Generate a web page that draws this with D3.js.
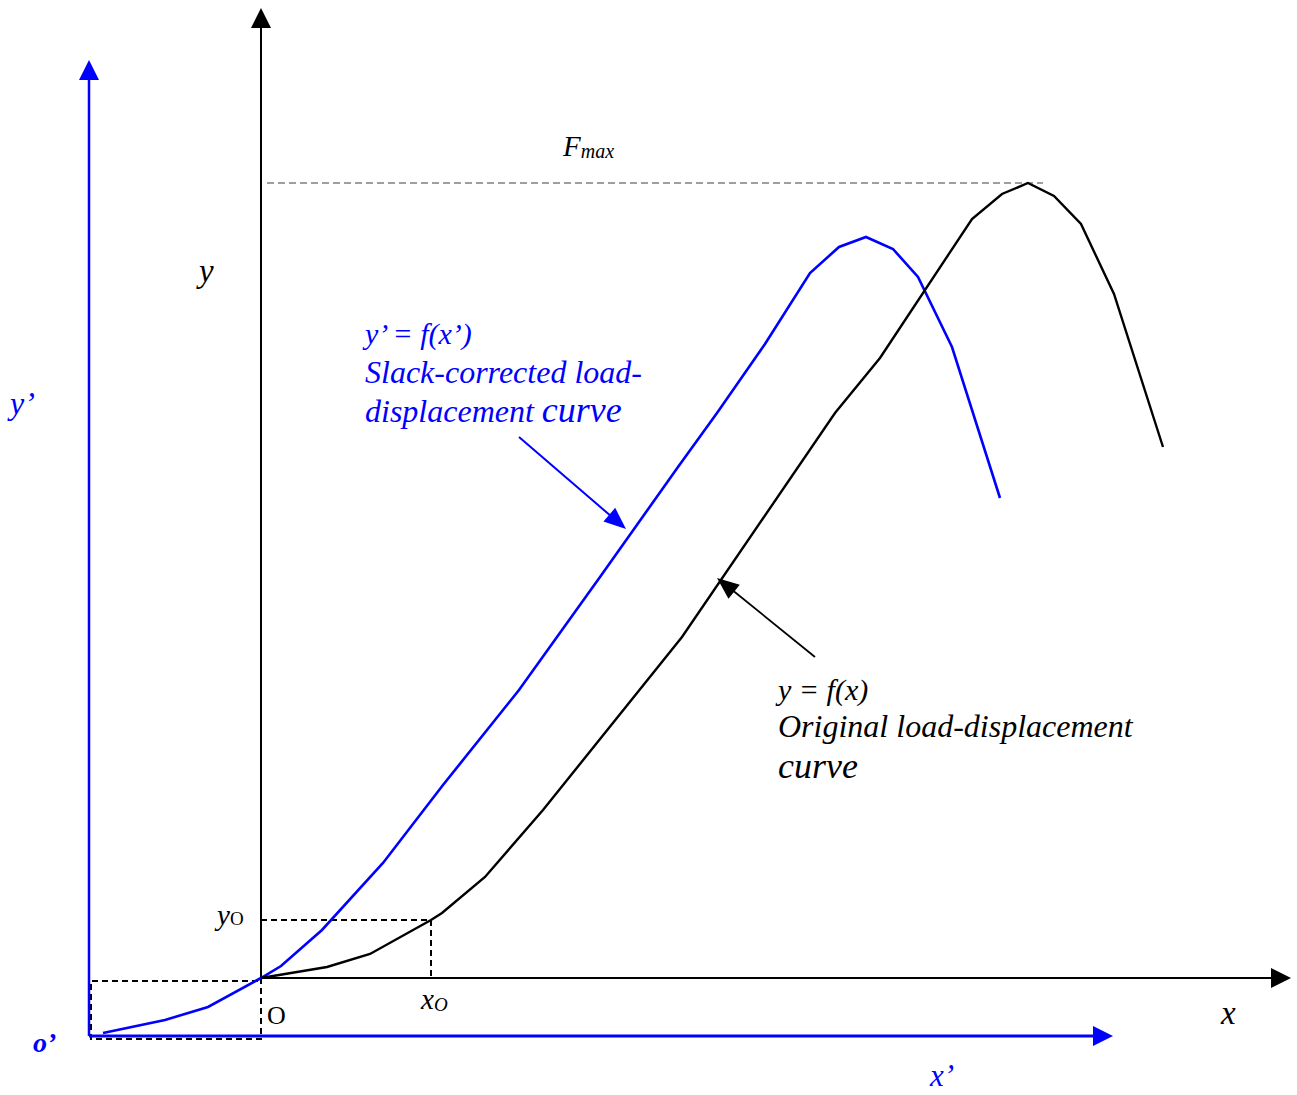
<!DOCTYPE html>
<html>
<head>
<meta charset="utf-8">
<script src="https://cdn.jsdelivr.net/npm/d3@7"></script>
<style>
  html, body { margin: 0; padding: 0; background: #fff; }
  svg text { font-family: "Liberation Serif", "Times New Roman", serif; }
</style>
</head>
<body>
<div id="chart"></div>
<script>
// Original curve y = f(x), in axis units (origin O)
const origX = [0, 6.6, 10.9, 17.0, 18.1, 22.4, 28.2, 42.1, 57.4, 61.9, 71.1, 74.1, 76.7, 79.3, 82.0, 85.3, 90.2];
const origY = [0, 1.1, 2.4, 5.8, 6.5, 10.1, 16.8, 34.1, 56.5, 62.0, 75.9, 78.4, 79.5, 78.2, 75.4, 68.4, 53.1];

// Slack-corrected curve y' = f(x'), same units
const corrX = [-15.8, -9.6, -5.3, 0, 2.0, 6.1, 12.2, 18.2, 25.8, 33.9, 41.7, 45.6, 50.4, 54.9, 57.8, 60.5, 63.2, 65.7, 69.1, 73.9];
const corrY = [-5.5, -4.2, -2.9, 0, 1.2, 4.8, 11.5, 19.3, 28.8, 40.1, 51.1, 56.5, 63.4, 70.5, 73.1, 74.1, 72.9, 70.1, 63.1, 48.0];

// key values
const xO = 17.0;
const yO = 5.8;
const Fmax = 79.5;
const slackX = -17.2;
const slackY = -5.8;

const width = 1297;
const height = 1095;

const svg = d3.select('#chart').append('svg')
	.attr('width', width)
	.attr('height', height)
	.attr('viewBox', [0, 0, width, height]);

const x = d3.scaleLinear().domain([0, 103]).range([261, 1291]);
const y = d3.scaleLinear().domain([0, 97]).range([978, 8]);

// arrow head helper
function head(tx, ty, angle, len, half, color) {
	const a = angle * Math.PI / 180;
	const bx = tx - len * Math.cos(a), by = ty - len * Math.sin(a);
	const px = -Math.sin(a) * half, py = Math.cos(a) * half;
	svg.append('path')
		.attr('d', `M${tx},${ty}L${bx + px},${by + py}L${bx - px},${by - py}Z`)
		.attr('fill', color);
}

// Fmax dashed line
svg.append('line')
	.attr('x1', x(0.6)).attr('x2', x(78.2))
	.attr('y1', y(Fmax)).attr('y2', y(Fmax))
	.attr('stroke', '#808080').attr('stroke-width', 1.6)
	.attr('stroke-dasharray', '7,4');

// dashed guides
const dash = svg.append('g')
	.attr('fill', 'none').attr('stroke', '#000')
	.attr('stroke-width', 2).attr('stroke-dasharray', '6,4');
dash.append('path').attr('d', `M${x(0)},${y(yO)}H${x(xO)}V${y(0)}`);
dash.append('path').attr('d', `M${x(0)},${y(0)}V${y(slackY - 0.3)}H${x(slackX + 0.2)}V${y(-0.3)}H${x(0)}`);

// original axes
svg.append('line')
	.attr('x1', x(0)).attr('y1', y(0)).attr('x2', x(0)).attr('y2', y(97) + 18)
	.attr('stroke', '#000').attr('stroke-width', 2);
head(x(0), y(97), -90, 20, 10, '#000');
svg.append('line')
	.attr('x1', x(0)).attr('y1', y(0)).attr('x2', x(103) - 18).attr('y2', y(0))
	.attr('stroke', '#000').attr('stroke-width', 2);
head(x(103), y(0), 0, 20, 10, '#000');

// corrected axes
svg.append('line')
	.attr('x1', x(slackX)).attr('y1', y(slackY)).attr('x2', x(slackX)).attr('y2', 78)
	.attr('stroke', '#0000ff').attr('stroke-width', 2.5);
head(x(slackX), 60, -90, 20, 10, '#0000ff');
svg.append('line')
	.attr('x1', x(slackX)).attr('y1', y(slackY)).attr('x2', 1095).attr('y2', y(slackY))
	.attr('stroke', '#0000ff').attr('stroke-width', 3);
head(1113, y(slackY), 0, 20, 10, '#0000ff');

// curves
const line = d3.line().x(d => x(d[0])).y(d => y(d[1]));
svg.append('path')
	.datum(d3.zip(corrX, corrY))
	.attr('d', line)
	.attr('fill', 'none').attr('stroke', '#0000ff').attr('stroke-width', 2.6)
	.attr('stroke-linejoin', 'miter');
svg.append('path')
	.datum(d3.zip(origX, origY))
	.attr('d', line)
	.attr('fill', 'none').attr('stroke', '#000').attr('stroke-width', 2.4)
	.attr('stroke-linejoin', 'miter');

// pointer arrows
svg.append('line').attr('x1', 519).attr('y1', 437).attr('x2', 612).attr('y2', 517)
	.attr('stroke', '#0000ff').attr('stroke-width', 2);
head(626, 529, Math.atan2(92, 107) * 180 / Math.PI, 22, 9, '#0000ff');
svg.append('line').attr('x1', 815).attr('y1', 657).attr('x2', 731).attr('y2', 589)
	.attr('stroke', '#000').attr('stroke-width', 1.8);
head(717, 578, Math.atan2(-79, -98) * 180 / Math.PI, 22, 9, '#000');

// text labels
function label(tx, ty, txt, size, color, opts = {}) {
	return svg.append('text')
		.attr('x', tx).attr('y', ty)
		.attr('font-size', size)
		.attr('font-style', opts.upright ? 'normal' : 'italic')
		.attr('font-weight', opts.bold ? 'bold' : 'normal')
		.attr('fill', color)
		.text(txt);
}

const fm = label(563, 156, 'F', 29, '#000');
fm.append('tspan').attr('font-size', 20).attr('dy', 2).text('max');

label(199, 282, 'y', 33, '#000');
label(1221, 1024, 'x', 33, '#000');
label(10, 414, 'y’', 32, '#0000ff');
label(33, 1052, 'o’', 28, '#0000ff', { bold: true });
label(930, 1086, 'x’', 31, '#0000ff');
label(267, 1024, 'O', 26, '#000', { upright: true });

const yl = label(217, 925, 'y', 29, '#000');
yl.append('tspan').attr('font-style', 'normal').attr('font-size', 19).text('O');
const xl = label(421, 1009, 'x', 29, '#000');
xl.append('tspan').attr('font-size', 19).attr('dy', 2).text('O');

// blue annotation
label(365, 344, 'y’ = f(x’)', 30, '#0000ff');
label(365, 383, 'Slack-corrected load-', 32, '#0000ff');
const dl = label(365, 422, 'displacement ', 32, '#0000ff');
dl.append('tspan').attr('font-size', 36).text('curve');

// black annotation
label(778, 700, 'y = f(x)', 30, '#000');
label(778, 737, 'Original load-displacement', 32, '#000');
label(778, 778, 'curve', 36, '#000');
</script>
</body>
</html>
